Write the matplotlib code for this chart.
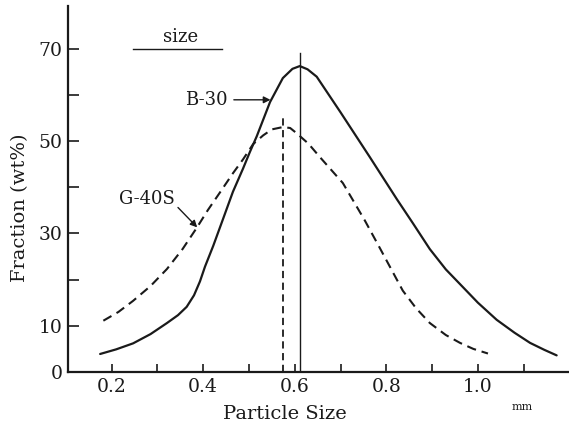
import numpy as np
import matplotlib
matplotlib.use("Agg")
from matplotlib import pyplot as plt

# values
b30_size = [0.175, 0.21, 0.247, 0.285, 0.321, 0.345, 0.364, 0.38, 0.393, 0.404,
            0.422, 0.443, 0.465, 0.487, 0.502, 0.517, 0.546, 0.574, 0.595, 0.611,
            0.628, 0.648, 0.70, 0.764, 0.823, 0.858, 0.895, 0.93, 0.967, 1.0,
            1.041, 1.08, 1.114, 1.145, 1.172]
b30_frac = [3.9, 4.9, 6.2, 8.2, 10.6, 12.3, 14.1, 16.6, 19.6, 22.8,
            27.3, 33.0, 39.0, 44.0, 47.6, 51.0, 58.4, 63.6, 65.6, 66.2,
            65.5, 63.9, 56.2, 46.5, 37.4, 32.2, 26.6, 22.2, 18.4, 15.0,
            11.3, 8.5, 6.3, 4.8, 3.6]

g40s_size = [0.182, 0.215, 0.247, 0.285, 0.321, 0.355, 0.386, 0.41, 0.437, 0.465,
             0.487, 0.509, 0.531, 0.55, 0.574, 0.59, 0.605, 0.63, 0.655, 0.705,
             0.727, 0.753, 0.786, 0.836, 0.865, 0.895, 0.93, 0.961, 0.99, 1.022]
g40s_frac = [11.1, 13.0, 15.4, 18.6, 22.3, 26.6, 31.2, 35.0, 38.9, 43.0,
             46.0, 49.3, 51.2, 52.5, 53.0, 52.8, 51.6, 49.4, 46.5, 40.9,
             37.2, 32.8, 26.8, 17.6, 13.8, 10.6, 8.0, 6.3, 5.0, 4.0]

# median size markers (x, top of line)
b30_median = (0.612, 69.0)
g40s_median = (0.574, 55.6)

x_ticks = [0.2, 0.3, 0.4, 0.5, 0.6, 0.7, 0.8, 0.9, 1.0, 1.1]
x_labels = ["0.2", "", "0.4", "", "0.6", "", "0.8", "", "1.0", ""]
y_ticks = [0, 10, 20, 30, 40, 50, 60, 70]
y_labels = ["0", "10", "", "30", "", "50", "", "70"]

plt.rcParams["font.family"] = ["DejaVu Serif"]
ink = "#1a1a1a"
dash = (0, (4.5, 2.8))

fig = plt.figure(figsize=(5.69, 4.23), dpi=100)
ax = fig.add_axes([68 / 569, 51 / 423, 501 / 569, 366 / 423])

# curves
ax.plot(b30_size, b30_frac, color=ink, lw=1.6, solid_capstyle="round",
        solid_joinstyle="round")
ax.plot(g40s_size, g40s_frac, color=ink, lw=1.5, linestyle=dash)

# median lines
ax.plot([b30_median[0], b30_median[0]], [0, b30_median[1]], color=ink, lw=1.0)
ax.plot([g40s_median[0], g40s_median[0]], [0, g40s_median[1]], color=ink, lw=1.3,
        linestyle=(0, (4, 2.5)))

# labels on the curves, with their arrows
arrow = dict(arrowstyle="-|>", color=ink, lw=1.0, mutation_scale=10,
             shrinkA=0, shrinkB=0)
ax.text(0.408, 58.9, "B-30", ha="center", va="center", fontsize=13, color=ink)
ax.annotate("", xy=(0.547, 58.9), xytext=(0.467, 58.9), arrowprops=arrow)
ax.text(0.277, 37.4, "G-40S", ha="center", va="center", fontsize=13, color=ink)
ax.annotate("", xy=(0.387, 31.3), xytext=(0.345, 35.6), arrowprops=arrow)

# "size" key
ax.plot([0.247, 0.441], [70, 70], color=ink, lw=1.0)
ax.text(0.35, 72.6, "size", ha="center", va="center", fontsize=13, color=ink)

ax.set_xlim(0.1048, 1.199)
ax.set_ylim(0, 79.2)

for side in ["top", "right"]:
    ax.spines[side].set_visible(False)
for side in ["left", "bottom"]:
    ax.spines[side].set_linewidth(1.6)
    ax.spines[side].set_color(ink)

ax.set_xticks(x_ticks)
ax.set_xticklabels(x_labels)
ax.set_yticks(y_ticks)
ax.set_yticklabels(y_labels)
ax.tick_params(axis="x", direction="in", length=6, width=1.2, labelsize=13.5,
               colors=ink, pad=4)
ax.tick_params(axis="y", direction="in", length=8, width=1.2, labelsize=13.5,
               colors=ink, pad=4)

fig.text(285 / 569, 1 - 414 / 423, "Particle Size", ha="center", va="center",
         fontsize=14, color=ink)
fig.text(522 / 569, 1 - 407 / 423, "mm", ha="center", va="center", fontsize=8,
         color=ink)
fig.text(20 / 569, 1 - 208 / 423, "Fraction (wt%)", ha="center", va="center",
         rotation=90, fontsize=14, color=ink)

fig.savefig("out.png", dpi=100)
